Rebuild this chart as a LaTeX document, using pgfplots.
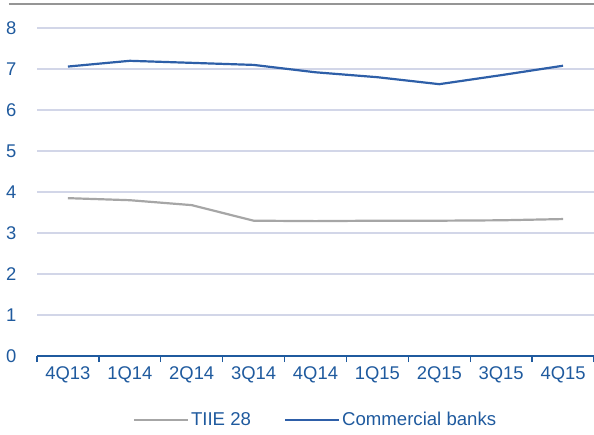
\documentclass[border=0pt]{standalone}
\usepackage{pgfplots}
\pgfplotsset{compat=1.18}
\usepackage{fontspec}
\setmainfont{Liberation Sans}
\definecolor{txtblue}{HTML}{1F5A9E}
\definecolor{linblue}{HTML}{2E5FA8}
\definecolor{linegray}{HTML}{A6A6A6}
\definecolor{gridc}{HTML}{D2D6E8}
\begin{document}
\begin{tikzpicture}
\useasboundingbox (-37pt,-78pt) rectangle (557pt,356pt);
\begin{axis}[
  at={(0pt,0pt)}, anchor=south west,
  scale only axis, width=557pt, height=328pt,
  xmin=-0.5, xmax=8.5, ymin=0, ymax=8,
  axis x line*=bottom, axis y line*=left,
  x axis line style={draw=txtblue, line width=1.6pt, -},
  y axis line style={draw=none},
  xtick={0,...,8},
  xticklabels={4Q13,1Q14,2Q14,3Q14,4Q14,1Q15,2Q15,3Q15,4Q15},
  minor xtick={-0.5,0.5,...,8.5},
  major tick length=0pt, minor tick length=6pt,
  tick align=outside,
  minor tick style={draw=txtblue, line width=1.4pt},
  ytick={0,...,8},
  ymajorgrids, major grid style={draw=gridc, line width=1.3pt},
  /pgf/number format/assume math mode=true,
  tick label style={font=\fontsize{18.4}{20}\selectfont, text=txtblue},
  xticklabel style={yshift=-7pt},
  yticklabel style={anchor=east, xshift=-17pt},
  legend columns=2,
  legend style={at={(0.5,-0.195)}, anchor=center, draw=none, fill=none,
    font=\fontsize{18.6}{20}\selectfont, text=txtblue,
    /tikz/every even column/.append style={column sep=31pt}},
  legend image code/.code={\draw[#1] (0pt,0pt) -- (54pt,0pt);},
]
\addplot[linegray, line width=2.2pt, no marks] coordinates {
(0,3.85) (1,3.80) (2,3.68) (3,3.30) (4,3.29) (5,3.30) (6,3.30) (7,3.31) (8,3.34)};
\addlegendentry{TIIE 28}
\addplot[linblue, line width=2.2pt, no marks] coordinates {
(0,7.06) (1,7.20) (2,7.15) (3,7.10) (4,6.92) (5,6.80) (6,6.63) (7,6.85) (8,7.08)};
\addlegendentry{Commercial banks}
\end{axis}
\draw[draw=linegray!90!black, line width=1.2pt] (-28pt,352pt) -- (557pt,352pt);
\end{tikzpicture}
\end{document}
